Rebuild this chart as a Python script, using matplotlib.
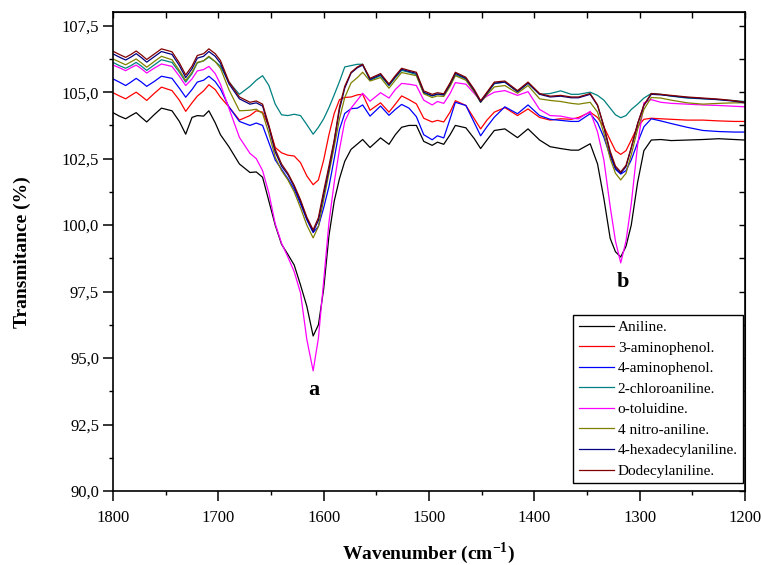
import matplotlib
matplotlib.use("Agg")
import matplotlib.pyplot as plt
from matplotlib.ticker import MultipleLocator, FuncFormatter

plt.rcParams['font.family'] = ['Liberation Serif', 'DejaVu Serif']

# wavenumber grid (cm-1)
W = [1800, 1794, 1788, 1783, 1778, 1773, 1768, 1761, 1754, 1744, 1737, 1731, 1725, 1720, 1714, 1709, 1703, 1698,
     1690, 1680, 1670, 1664, 1658, 1652, 1646, 1640, 1634, 1628, 1622, 1616, 1610, 1605, 1600, 1595, 1590, 1585, 1580,
     1574, 1568, 1563, 1556, 1546, 1538, 1532, 1526, 1519, 1512, 1505, 1497, 1492, 1486, 1480, 1475, 1465, 1457, 1451, 1445,
     1438, 1428, 1416, 1406, 1395, 1385, 1375, 1365, 1358, 1347, 1340,
     1334, 1328, 1323, 1318, 1313, 1308, 1302, 1296, 1289, 1280, 1270, 1255, 1240, 1225, 1210, 1200]

aniline = [104.23, 104.10, 104.00, 104.12, 104.23, 104.05, 103.88, 104.15, 104.40, 104.30, 103.90, 103.42, 104.05, 104.12, 104.10, 104.30, 103.85, 103.40,
           102.95, 102.30, 101.98, 102.00, 101.80, 100.90, 100.00, 99.28, 98.90, 98.50, 97.75, 96.95, 95.83, 96.25, 97.60, 99.60, 100.90, 101.75, 102.40,
           102.85, 103.05, 103.22, 102.92, 103.28, 103.04, 103.40, 103.68, 103.75, 103.75, 103.15, 103.00, 103.12, 103.04, 103.40, 103.75, 103.66, 103.25, 102.88, 103.20,
           103.56, 103.62, 103.29, 103.62, 103.20, 102.95, 102.88, 102.82, 102.82, 103.06, 102.30,
           101.00, 99.50, 99.00, 98.80, 99.20, 100.00, 101.60, 102.80, 103.20, 103.22, 103.18, 103.20, 103.22, 103.25, 103.22, 103.20]

aminophenol3 = [104.98, 104.86, 104.75, 104.88, 105.00, 104.85, 104.69, 104.95, 105.19, 105.06, 104.70, 104.28, 104.60, 104.85, 105.05, 105.28, 105.10, 104.81,
                104.45, 103.95, 104.12, 104.30, 104.25, 103.70, 102.92, 102.72, 102.63, 102.60, 102.35, 101.85, 101.52, 101.70, 102.45, 103.40, 104.20, 104.72, 104.80,
                104.82, 104.90, 104.92, 104.32, 104.60, 104.25, 104.55, 104.86, 104.72, 104.56, 104.02, 103.88, 103.94, 103.88, 104.25, 104.68, 104.50, 104.00, 103.62, 103.95,
                104.25, 104.42, 104.12, 104.37, 104.05, 103.95, 104.00, 103.98, 104.05, 104.25, 104.05,
                103.70, 103.20, 102.80, 102.66, 102.80, 103.20, 103.70, 103.98, 104.02, 104.00, 103.98, 103.95, 103.95, 103.92, 103.90, 103.90]

aminophenol4 = [105.50, 105.38, 105.25, 105.38, 105.52, 105.38, 105.22, 105.40, 105.60, 105.52, 105.15, 104.81, 105.10, 105.38, 105.45, 105.60, 105.40, 105.12,
                104.45, 103.90, 103.75, 103.84, 103.75, 103.10, 102.45, 102.10, 101.75, 101.35, 100.80, 100.20, 99.72, 99.95, 100.65, 101.45, 102.50, 103.60, 104.20,
                104.38, 104.40, 104.52, 104.10, 104.48, 104.13, 104.35, 104.54, 104.40, 104.08, 103.40, 103.21, 103.36, 103.28, 104.00, 104.62, 104.50, 103.85, 103.36, 103.70,
                104.06, 104.45, 104.19, 104.52, 104.12, 103.98, 103.94, 103.90, 103.90, 104.19, 103.85,
                103.30, 102.60, 102.10, 101.92, 102.05, 102.45, 103.10, 103.70, 104.00, 103.92, 103.82, 103.68, 103.56, 103.52, 103.50, 103.50]

chloroaniline = [106.12, 106.00, 105.90, 106.00, 106.12, 105.98, 105.82, 106.02, 106.22, 106.12, 105.75, 105.38, 105.70, 106.10, 106.18, 106.32, 106.15, 105.98,
                 105.38, 104.92, 105.22, 105.45, 105.62, 105.25, 104.55, 104.15, 104.12, 104.17, 104.12, 103.78, 103.42, 103.68, 104.00, 104.42, 104.90, 105.40, 105.95,
                 106.00, 106.05, 106.05, 105.45, 105.62, 105.25, 105.55, 105.82, 105.75, 105.66, 104.96, 104.86, 104.92, 104.90, 105.28, 105.66, 105.50, 105.05, 104.63, 104.95,
                 105.32, 105.38, 105.02, 105.34, 104.92, 104.95, 105.05, 104.92, 104.92, 105.00, 104.88,
                 104.70, 104.40, 104.15, 104.04, 104.12, 104.35, 104.55, 104.78, 104.95, 104.92, 104.85, 104.78, 104.75, 104.72, 104.68, 104.65]

toluidine = [106.02, 105.92, 105.81, 105.92, 106.02, 105.88, 105.72, 105.90, 106.06, 105.97, 105.60, 105.25, 105.50, 105.80, 105.85, 105.97, 105.70, 105.30,
             104.40, 103.30, 102.70, 102.50, 102.05, 101.20, 100.05, 99.32, 98.80, 98.25, 97.45, 95.70, 94.52, 95.75, 97.90, 100.10, 101.60, 102.85, 103.90,
             104.40, 104.70, 104.96, 104.66, 104.98, 104.78, 105.10, 105.33, 105.30, 105.25, 104.70, 104.52, 104.65, 104.58, 104.95, 105.36, 105.30, 104.95, 104.68, 104.85,
             105.00, 105.06, 104.88, 105.02, 104.35, 104.12, 104.10, 104.02, 104.00, 104.28, 103.50,
             102.45, 100.70, 99.40, 98.58, 99.40, 100.80, 103.00, 104.60, 104.72, 104.62, 104.58, 104.55, 104.52, 104.50, 104.47, 104.45]

nitroaniline = [106.25, 106.14, 106.03, 106.14, 106.25, 106.10, 105.94, 106.15, 106.35, 106.22, 105.82, 105.44, 105.75, 106.12, 106.18, 106.35, 106.15, 105.90,
                105.10, 104.30, 104.32, 104.36, 104.20, 103.45, 102.55, 102.05, 101.70, 101.25, 100.65, 100.00, 99.52, 99.95, 100.95, 101.95, 102.95, 104.00, 104.80,
                105.35, 105.55, 105.75, 105.42, 105.55, 105.15, 105.45, 105.74, 105.68, 105.62, 104.94, 104.80, 104.86, 104.84, 105.22, 105.62, 105.45, 105.00, 104.62, 104.90,
                105.20, 105.25, 104.96, 105.25, 104.75, 104.69, 104.65, 104.58, 104.55, 104.62, 104.25,
                103.45, 102.50, 101.95, 101.70, 101.95, 102.65, 103.60, 104.35, 104.80, 104.78, 104.70, 104.60, 104.55, 104.58, 104.60, 104.60]

hexadecylaniline = [106.44, 106.32, 106.21, 106.32, 106.45, 106.30, 106.13, 106.33, 106.53, 106.42, 106.00, 105.55, 105.88, 106.28, 106.35, 106.53, 106.35, 106.09,
                    105.32, 104.75, 104.55, 104.60, 104.48, 103.68, 102.75, 102.22, 101.90, 101.45, 100.88, 100.25, 99.75, 100.18, 101.15, 102.10, 103.15, 104.35, 105.15,
                    105.72, 105.92, 106.02, 105.48, 105.66, 105.27, 105.58, 105.86, 105.78, 105.71, 105.00, 104.87, 104.93, 104.90, 105.30, 105.71, 105.52, 105.06, 104.63, 104.96,
                    105.34, 105.38, 105.02, 105.34, 104.92, 104.82, 104.85, 104.79, 104.79, 104.92, 104.50,
                    103.70, 102.70, 102.15, 101.95, 102.20, 102.90, 103.80, 104.50, 104.92, 104.90, 104.86, 104.80, 104.76, 104.72, 104.66, 104.60]

dodecylaniline = [106.54, 106.42, 106.31, 106.42, 106.55, 106.40, 106.23, 106.43, 106.63, 106.52, 106.10, 105.65, 105.98, 106.38, 106.45, 106.63, 106.45, 106.19,
                  105.40, 104.82, 104.62, 104.67, 104.55, 103.75, 102.85, 102.30, 101.95, 101.50, 100.95, 100.30, 99.82, 100.28, 101.28, 102.22, 103.20, 104.45, 105.22,
                  105.75, 105.95, 106.05, 105.52, 105.70, 105.31, 105.62, 105.90, 105.82, 105.75, 105.05, 104.92, 104.98, 104.94, 105.35, 105.75, 105.56, 105.10, 104.68, 105.00,
                  105.38, 105.42, 105.06, 105.38, 104.95, 104.85, 104.88, 104.82, 104.82, 104.95, 104.52,
                  103.72, 102.78, 102.22, 102.00, 102.25, 102.92, 103.82, 104.52, 104.95, 104.92, 104.88, 104.82, 104.78, 104.74, 104.68, 104.62]

labels = ["Aniline.", "3-aminophenol.", "4-aminophenol.", "2-chloroaniline.", "o-toluidine.",
          "4 nitro-aniline.", "4-hexadecylaniline.", "Dodecylaniline."]
colors = ["#000000", "#ff0000", "#0000ff", "#008080", "#ff00ff", "#808000", "#000080", "#800000"]
series = [aniline, aminophenol3, aminophenol4, chloroaniline, toluidine, nitroaniline, hexadecylaniline, dodecylaniline]

fig = plt.figure(figsize=(7.61, 5.65), dpi=100)
ax = fig.add_axes([0.1485, 0.131, 0.8305, 0.847])

for s, c, l in zip(series, colors, labels):
    ax.plot(W, s, color=c, lw=0.9, label=l)

ax.set_xlim(1800, 1200)
ax.set_ylim(90, 108)
ax.xaxis.set_major_locator(MultipleLocator(100))
ax.xaxis.set_minor_locator(MultipleLocator(50))
ax.yaxis.set_major_locator(MultipleLocator(2.5))
ax.yaxis.set_minor_locator(MultipleLocator(1.25))
ax.yaxis.set_major_formatter(FuncFormatter(lambda v, p: f"{v:.1f}".replace('.', ',')))
ax.tick_params(which='major', direction='out', length=7, width=1.1, labelsize=12, pad=3,
               top=False, right=False)
ax.tick_params(axis='x', which='major', pad=7)
ax.tick_params(which='minor', direction='out', length=3, width=1.0, top=False, right=False)
for sp in ax.spines.values():
    sp.set_linewidth(1.2)

# mirrored inward ticks on top and right
sx = ax.secondary_xaxis('top')
sx.xaxis.set_major_locator(MultipleLocator(100))
sx.xaxis.set_minor_locator(MultipleLocator(50))
sx.tick_params(which='both', direction='in', length=4, width=1.0, labeltop=False)
sy = ax.secondary_yaxis('right')
sy.yaxis.set_major_locator(MultipleLocator(2.5))
sy.yaxis.set_minor_locator(MultipleLocator(1.25))
sy.tick_params(which='both', direction='in', length=4, width=1.0, labelright=False)

ax.set_xlabel("Wavenumber (cm$^{\\mathregular{-1}}$)", fontsize=14, fontweight='bold', labelpad=10)
ax.set_ylabel("Transmitance (%)", fontsize=14, fontweight='bold', labelpad=22)

ax.text(1609, 93.8, "a", fontsize=16, fontweight='bold', ha='center', va='center')
ax.text(1316, 97.85, "b", fontsize=16, fontweight='bold', ha='center', va='center')

leg = ax.legend(loc='lower right', bbox_to_anchor=(0.997, 0.016), borderaxespad=0,
                fontsize=11, handlelength=2.3, handletextpad=0.25, labelspacing=0.45,
                borderpad=0.35, fancybox=False, framealpha=1, edgecolor='black')
leg.get_frame().set_linewidth(1.0)

fig.savefig("out.png", dpi=100)
